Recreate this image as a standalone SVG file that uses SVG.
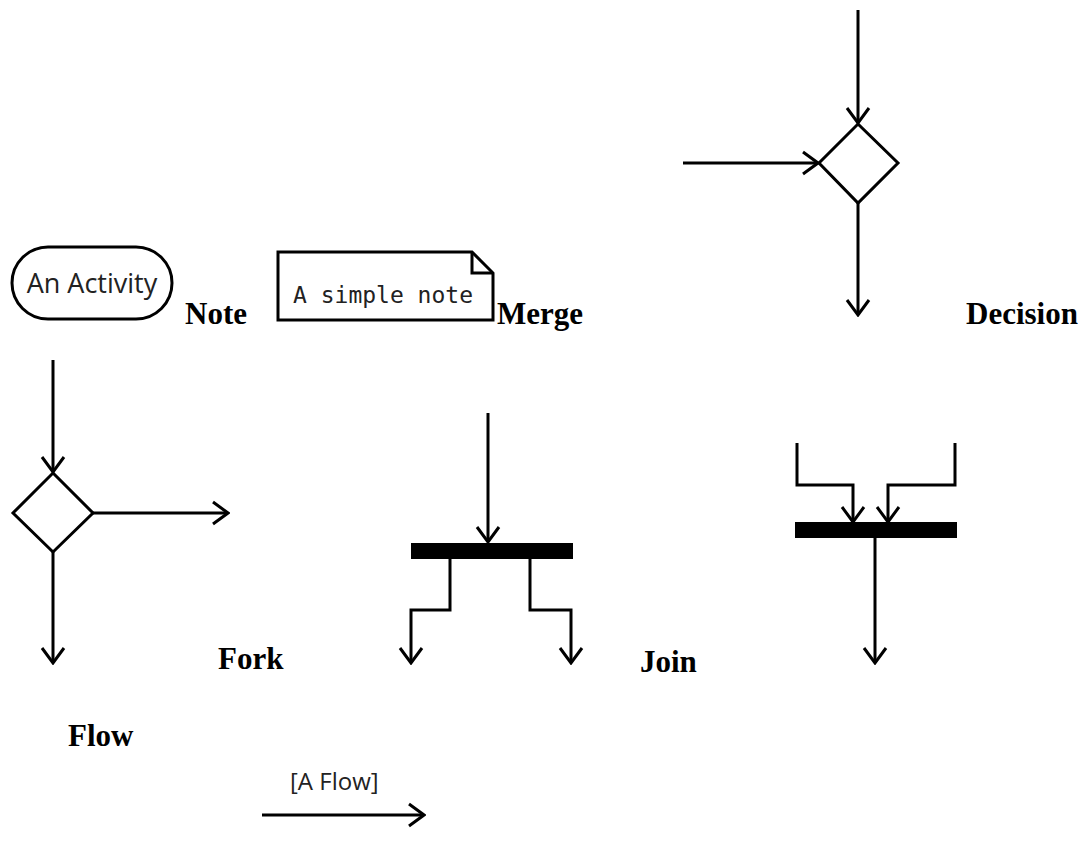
<svg xmlns="http://www.w3.org/2000/svg" width="1084" height="861" viewBox="0 0 1084 861">
<style>
.lbl{font-family:"Liberation Serif","Times New Roman",serif;font-weight:bold;font-size:31px;fill:#000}
.shape{fill:#fff;stroke:#000;stroke-width:3}
.conn{fill:none;stroke:#000;stroke-width:3}
.bar{fill:#000}
.txt{font-family:"Open Sans","DejaVu Sans",sans-serif;fill:#222}
.mono{font-family:"DejaVu Sans Mono","Liberation Mono",monospace;fill:#222}
</style>
<defs>
<marker id="arr" viewBox="0 0 19 26" refX="17" refY="13" markerWidth="19" markerHeight="26" markerUnits="userSpaceOnUse" orient="auto">
<path d="M2,2 L17,13 L2,24" fill="none" stroke="#000" stroke-width="3"/>
</marker>
</defs>
<rect width="1084" height="861" fill="#fff"/>

<g id="connectors">
<line class="conn" x1="858" y1="10" x2="858" y2="123" marker-end="url(#arr)"/>
<line class="conn" x1="683" y1="163" x2="818" y2="163" marker-end="url(#arr)"/>
<line class="conn" x1="858" y1="203" x2="858" y2="315" marker-end="url(#arr)"/>
<line class="conn" x1="53" y1="360" x2="53" y2="472" marker-end="url(#arr)"/>
<line class="conn" x1="93" y1="513" x2="228" y2="513" marker-end="url(#arr)"/>
<line class="conn" x1="53" y1="552" x2="53" y2="663" marker-end="url(#arr)"/>
<line class="conn" x1="488" y1="413" x2="488" y2="542" marker-end="url(#arr)"/>
<path class="conn" d="M450,559 V610 H411 V663" marker-end="url(#arr)"/>
<path class="conn" d="M530,559 V610 H571 V663" marker-end="url(#arr)"/>
<path class="conn" d="M797,443 V485 H853 V522" marker-end="url(#arr)"/>
<path class="conn" d="M955,443 V485 H888 V522" marker-end="url(#arr)"/>
<line class="conn" x1="875" y1="538" x2="875" y2="663" marker-end="url(#arr)"/>
<line class="conn" x1="262" y1="815" x2="424" y2="815" marker-end="url(#arr)"/>
</g>

<g id="activity">
<rect class="shape" x="12" y="247" width="160" height="72" rx="36" ry="36"/>
<text class="txt" x="92" y="293" font-size="27" text-anchor="middle">An Activity</text>
</g>
<g id="note">
<path class="shape" d="M278,252 H472 L493,273 V320 H278 Z" stroke-width="3.5"/>
<path class="conn" d="M472,252 V273 H493" stroke-width="2"/>
<text class="mono" x="293" y="303" font-size="23">A simple note</text>
</g>
<g id="decision-top">
<polygon class="shape" points="858,124 898,163 858,203 819,163"/>
</g>
<g id="decision-flow">
<polygon class="shape" points="53,473 93,513 53,552 13,513"/>
</g>
<g id="fork-bar">
<rect class="bar" x="411" y="543" width="162" height="16"/>
</g>
<g id="join-bar">
<rect class="bar" x="795" y="522" width="162" height="16"/>
</g>
<g id="flow-label">
<text class="txt" x="290" y="790" font-size="24">[A Flow]</text>
</g>

<g id="labels">
<text class="lbl" x="185" y="324">Note</text>
<text class="lbl" x="497" y="324">Merge</text>
<text class="lbl" x="966" y="324">Decision</text>
<text class="lbl" x="218" y="669">Fork</text>
<text class="lbl" x="640" y="672">Join</text>
<text class="lbl" x="68" y="746">Flow</text>
</g>
</svg>
